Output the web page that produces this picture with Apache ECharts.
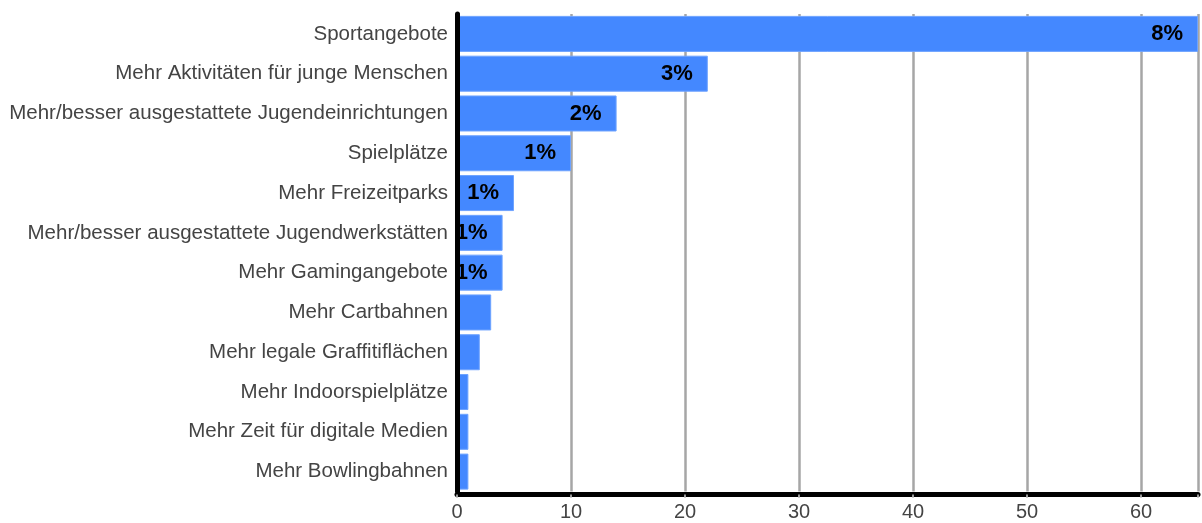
<!DOCTYPE html>
<html>
<head>
<meta charset="utf-8">
<script src="https://cdn.jsdelivr.net/npm/echarts@6/dist/echarts.min.js"></script>
<style>html,body{margin:0;padding:0;background:#fff}#c{width:1202px;height:523px}</style>
</head>
<body>
<div id="c"></div>
<script>
const categories = [
  "Sportangebote",
  "Mehr Aktivitäten für junge Menschen",
  "Mehr/besser ausgestattete Jugendeinrichtungen",
  "Spielplätze",
  "Mehr Freizeitparks",
  "Mehr/besser ausgestattete Jugendwerkstätten",
  "Mehr Gamingangebote",
  "Mehr Cartbahnen",
  "Mehr legale Graffitiflächen",
  "Mehr Indoorspielplätze",
  "Mehr Zeit für digitale Medien",
  "Mehr Bowlingbahnen"
];
const values = [65, 22, 14, 10, 5, 4, 4, 3, 2, 1, 1, 1];
const barLabels = ["8%", "3%", "2%", "1%", "1%", "1%", "1%", "", "", "", "", ""];
const xTicks = [0, 10, 20, 30, 40, 50, 60];

const chart = echarts.init(document.getElementById('c'));
chart.setOption({
  animation: false,
  grid: { left: 457, right: 4, top: 14, bottom: 31.5, containLabel: false },
  xAxis: {
    type: 'value', min: 0, max: 65, interval: 10, offset: 3,
    axisLine: { show: true, onZero: false, lineStyle: { color: '#000', width: 5 } },
    axisTick: { show: true, length: 3, lineStyle: { color: '#999', width: 2 } },
    axisLabel: {
      color: '#444', fontSize: 20, fontFamily: 'Liberation Sans', margin: 8,
      formatter: v => xTicks.includes(v) ? String(v) : ''
    },
    splitLine: { show: true, lineStyle: { color: '#a6a6a6', width: 2.5 } }
  },
  yAxis: {
    type: 'category', data: categories, inverse: true, z: 10,
    axisLine: { show: true, lineStyle: { color: '#000', width: 5 } },
    axisTick: { show: false },
    axisLabel: { color: '#444', fontSize: 20.5, fontFamily: 'Liberation Sans', margin: 9 }
  },
  series: [{
    type: 'bar',
    data: values,
    barCategoryGap: '9.5%',
    itemStyle: { color: '#4488ff', borderColor: '#6ea3ff', borderWidth: 1 },
    label: {
      show: true, position: 'insideRight', distance: 15,
      formatter: p => barLabels[p.dataIndex],
      color: '#000', fontWeight: 'bold', fontSize: 22, fontFamily: 'Liberation Sans'
    }
  }]
});
</script>
</body>
</html>
